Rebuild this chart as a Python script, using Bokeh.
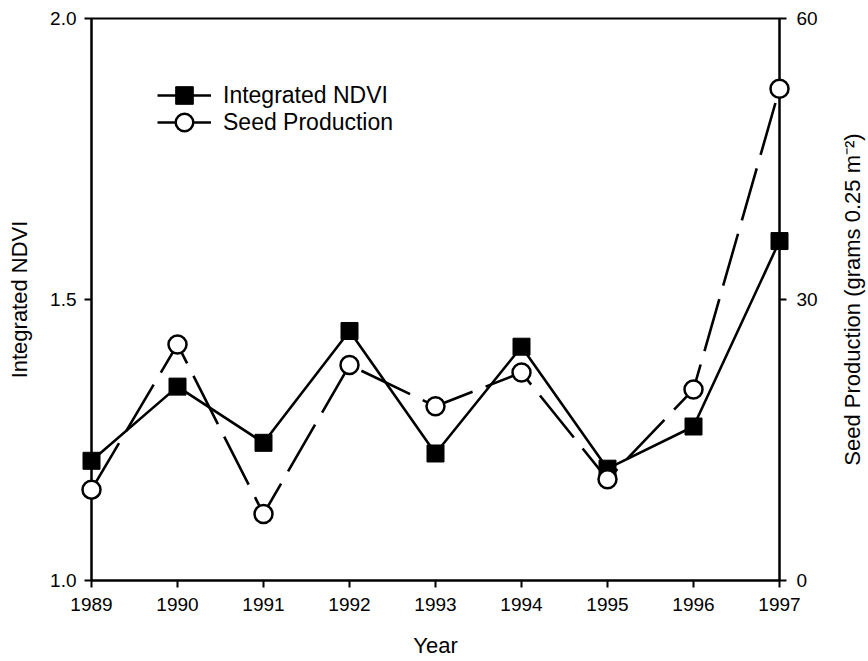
import math
from bokeh.plotting import figure
from bokeh.models import (Range1d, LinearAxis, FixedTicker, Legend, LegendItem,
                          ColumnDataSource, PrintfTickFormatter)
from bokeh.core.properties import value
from bokeh.embed import file_html
from bokeh.resources import INLINE

years = [1989, 1990, 1991, 1992, 1993, 1994, 1995, 1996, 1997]
ndvi = [1.213, 1.345, 1.245, 1.444, 1.226, 1.416, 1.199, 1.274, 1.604]
seed = [9.7, 25.2, 7.1, 23.0, 18.6, 22.2, 10.8, 20.4, 52.5]

left_ticks = [1.0, 1.5, 2.0]
right_ticks = [0, 30, 60]
right_label = "Seed Production (grams 0.25 m\u207b\u00b2)"

FONT = "Liberation Sans"

src = ColumnDataSource(dict(year=years, ndvi=ndvi, seed=seed))

p = figure(width=866, height=661, output_backend="svg", toolbar_location=None,
           x_range=Range1d(1989, 1997), y_range=Range1d(1.0, 2.0),
           min_border_left=91, min_border_right=87, min_border_top=18,
           min_border_bottom=81)
p.extra_y_ranges = {"seed": Range1d(0, 60)}
p.grid.visible = False
p.outline_line_color = "black"
p.outline_line_width = 2
p.background_fill_color = "white"
p.border_fill_color = "white"

def style_axis(ax, label_standoff, tick_standoff):
    ax.axis_line_width = 2
    ax.axis_line_color = "black"
    ax.major_tick_line_width = 2
    ax.major_tick_in = 0
    ax.major_tick_out = 7
    ax.minor_tick_line_color = None
    ax.major_label_text_font = FONT
    ax.major_label_text_font_size = "19px"
    ax.major_label_text_color = "black"
    ax.axis_label_text_font = FONT
    ax.axis_label_text_font_size = "22px"
    ax.axis_label_text_font_style = "normal"
    ax.axis_label_text_color = "black"
    ax.axis_label_standoff = label_standoff
    ax.major_label_standoff = tick_standoff

xa = p.xaxis[0]
xa.ticker = FixedTicker(ticks=years)
xa.axis_label = "Year"
style_axis(xa, 19, 10)

ya = p.yaxis[0]
ya.ticker = FixedTicker(ticks=left_ticks)
ya.formatter = PrintfTickFormatter(format="%.1f")
ya.axis_label = "Integrated NDVI"
style_axis(ya, 15, 8)

ra = LinearAxis(y_range_name="seed")
ra.ticker = FixedTicker(ticks=right_ticks)
style_axis(ra, 19, 10)
p.add_layout(ra, "right")

# right-hand axis title (reads bottom to top), placed just outside the right axis
p.text(x=[1997.85], y=[30], text=[right_label], y_range_name="seed",
       angle=math.pi / 2, text_align="center", text_baseline="middle",
       text_font=value(FONT), text_font_size="22px", text_color="black",
       level="overlay")

l1 = p.line("year", "ndvi", source=src, line_color="black", line_width=2.6, level="overlay")
s1 = p.scatter("year", "ndvi", source=src, marker="square", size=17,
               fill_color="black", line_color="black", line_width=1, level="overlay")
l2 = p.line("year", "seed", source=src, y_range_name="seed", line_color="black",
            line_width=2.6, line_dash="54 14", level="overlay")
s2 = p.scatter("year", "seed", source=src, y_range_name="seed", marker="circle", size=18,
               fill_color="white", line_color="black", line_width=2.5, level="overlay")


def make_legend(label, renderers, loc):
    lg = Legend(items=[LegendItem(label=label, renderers=renderers)], location=loc)
    lg.margin = 0
    lg.padding = 0
    lg.border_line_color = None
    lg.background_fill_alpha = 0
    lg.glyph_width = 54
    lg.glyph_height = 44
    lg.label_height = 44
    lg.label_standoff = 12
    lg.label_text_font = FONT
    lg.label_text_font_size = "23px"
    lg.label_text_color = "black"
    lg.label_text_baseline = "middle"
    return lg

p.add_layout(make_legend("Integrated NDVI", [l1, s1], (66, 463)), "center")
p.add_layout(make_legend("Seed Production", [l2, s2], (66, 436)), "center")

open("out.html", "w").write(file_html(p, INLINE))
